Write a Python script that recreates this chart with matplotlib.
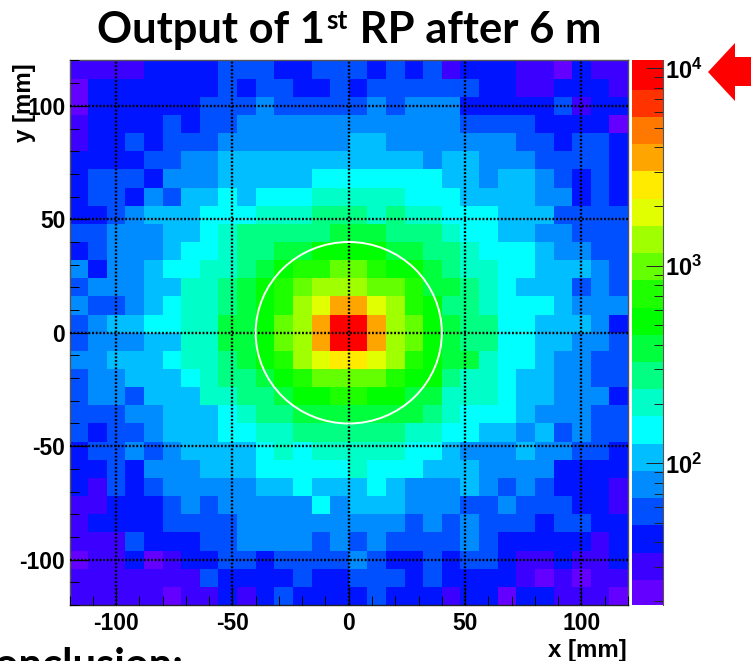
import numpy as np
import matplotlib
matplotlib.use("Agg")
import matplotlib.pyplot as plt
from matplotlib.colors import ListedColormap, LogNorm
from matplotlib.patches import Circle, Polygon
from matplotlib.ticker import LogLocator, FixedLocator, FuncFormatter, MultipleLocator, NullFormatter

W, H = 751, 661

title_parts = ["Output of 1", "st", " RP after 6 m"]
x_label = "x [mm]"
y_label = "y [mm]"
clipped_text = "Conclusion:"
x_ticks = [-100, -50, 0, 50, 100]
y_ticks = [-100, -50, 0, 50, 100]
circle_radius = 40
x_edges = list(range(-120, 121, 8))
y_edges = list(range(120, -121, -8))

band_colors = ["#6400ff", "#3c00ff", "#0014ff", "#0050ff", "#008cff", "#00beff", "#00ffff",
               "#00ffc8", "#00ff82", "#00ff3c", "#00ff00", "#1eff00", "#64ff00", "#a0ff00",
               "#e1ff00", "#ffeb00", "#ffa500", "#ff7800", "#ff3200", "#ff0000"]
band_counts = [21, 29, 40, 55, 76, 105, 145, 200, 275, 380,
               525, 725, 1000, 1380, 1900, 2630, 3630, 5000, 6900, 9500]
z_min, z_max = 19.2, 10960

bands = [
 [1,1,1,1,2,2,2,2,3,3,3,2,2,3,3,3,2,3,2,3,1,2,2,2,1,1,0,2,1,1],
 [0,2,2,2,2,2,2,2,3,2,3,3,2,2,3,2,3,3,3,3,3,3,2,2,1,1,2,2,2,1],
 [0,2,2,2,2,2,2,3,3,3,4,3,3,3,3,3,4,3,4,4,4,2,2,2,2,2,3,1,2,2],
 [1,2,2,2,2,3,2,3,3,4,4,4,4,4,4,4,4,4,4,4,4,3,3,3,3,2,2,2,2,0],
 [1,2,2,3,2,3,3,3,4,4,4,4,4,4,4,5,5,4,4,4,4,4,4,4,3,3,2,3,3,2],
 [2,2,2,2,3,3,4,4,5,5,5,5,5,5,5,5,5,5,5,4,5,5,4,4,4,3,3,3,3,2],
 [2,3,3,3,2,4,4,4,5,5,5,5,5,6,6,6,6,6,6,6,5,5,4,5,5,4,3,2,3,2],
 [2,3,3,2,4,3,5,5,6,5,6,6,6,7,7,7,7,7,6,6,6,5,5,5,5,4,4,2,3,2],
 [2,2,3,4,5,5,5,6,6,6,7,7,7,8,8,8,7,8,7,7,6,6,6,5,5,5,3,3,3,3],
 [3,3,4,4,4,5,5,6,7,8,8,8,8,8,9,9,9,8,8,8,7,6,6,5,5,4,4,3,3,3],
 [2,3,4,4,4,5,6,6,7,8,8,9,9,10,10,10,10,9,9,8,8,7,6,6,6,5,4,4,3,3],
 [4,2,4,4,5,6,6,7,7,8,9,10,11,11,12,12,11,10,10,9,8,7,7,6,6,5,5,5,4,3],
 [3,4,4,4,5,5,7,7,8,9,10,11,12,13,13,13,12,12,11,9,9,8,7,6,5,5,5,3,4,3],
 [4,3,3,4,5,6,7,7,8,9,10,11,13,14,16,16,14,13,11,10,8,8,7,6,6,6,5,4,4,4],
 [3,4,5,5,6,6,7,7,9,9,10,12,13,16,19,19,16,13,12,10,9,8,8,6,6,5,5,5,4,2],
 [3,4,4,4,5,5,7,7,9,9,10,12,13,16,19,19,16,13,12,10,9,8,8,6,6,5,5,4,4,3],
 [4,4,5,5,5,6,7,7,8,9,10,11,13,14,15,15,14,13,11,10,9,9,7,6,6,5,4,4,3,3],
 [3,4,4,5,5,5,6,7,8,8,9,10,11,12,12,12,12,11,10,10,8,7,7,6,5,5,4,4,3,3],
 [3,4,4,3,5,5,5,7,7,8,8,9,10,10,11,11,10,10,9,9,7,7,7,6,5,5,4,4,4,2],
 [3,3,3,4,4,5,5,5,6,7,8,8,9,9,9,9,9,9,9,8,7,6,6,6,5,4,4,4,3,3],
 [3,2,3,3,4,5,5,5,6,6,7,7,8,8,8,8,8,8,7,7,6,6,5,5,4,5,3,4,3,3],
 [2,3,3,4,3,4,5,5,5,5,6,7,6,7,7,7,7,7,6,6,5,4,4,4,5,4,4,3,3,2],
 [2,2,3,2,4,4,4,5,5,5,6,6,6,6,6,7,6,6,6,5,5,5,4,4,4,4,2,2,2,2],
 [2,1,3,2,3,4,4,4,4,4,5,5,6,5,5,5,6,5,4,4,4,5,4,3,4,3,2,2,2,1],
 [1,1,2,2,2,3,4,3,4,4,4,4,4,6,4,5,5,5,4,4,4,3,3,4,3,3,3,2,2,1],
 [1,2,2,2,2,3,3,3,3,4,4,4,4,4,4,4,4,4,3,4,3,4,3,3,3,2,3,3,2,2],
 [1,1,1,3,2,2,2,3,3,4,4,4,4,3,4,3,4,3,3,3,3,4,3,2,2,2,2,2,1,2],
 [0,1,1,2,0,1,2,2,3,3,2,3,3,3,3,4,3,2,2,3,2,3,3,2,1,1,2,1,1,2],
 [1,1,1,1,1,1,1,3,2,2,2,2,3,2,2,3,3,3,2,3,2,2,2,2,1,0,1,0,1,1],
 [1,1,1,1,1,0,1,1,2,1,2,3,2,2,2,2,3,2,2,2,1,2,2,0,2,2,1,1,1,0],
]

SANS = ["Liberation Sans", "DejaVu Sans"]
plt.rcParams["font.family"] = SANS
plt.rcParams["font.weight"] = "bold"
plt.rcParams["axes.unicode_minus"] = False
plt.rcParams["mathtext.fontset"] = "custom"
plt.rcParams["mathtext.bf"] = "Liberation Sans:bold"
plt.rcParams["mathtext.rm"] = "Liberation Sans:bold"

fig = plt.figure(figsize=(W / 100, H / 100), dpi=100, facecolor="white")


def box(l, t, r, b):
    return [l / W, 1 - b / H, (r - l) / W, (b - t) / H]


ax = fig.add_axes(box(69.5, 60.5, 628, 605))
cax = fig.add_axes(box(631.5, 60.5, 663.5, 605))

Z = np.array(band_counts)[np.array(bands)]
cmap = ListedColormap(band_colors)
norm = LogNorm(vmin=z_min, vmax=z_max)
mesh = ax.pcolormesh(x_edges, y_edges, Z, cmap=cmap, norm=norm, shading="flat",
                     edgecolors="none", antialiased=False)
ax.set_xlim(-120, 120)
ax.set_ylim(-120, 120)
ax.set_axisbelow(False)
ax.grid(True, which="major", color="black", linewidth=1.7, linestyle=(0, (0.78, 0.78)), zorder=5)
ax.add_patch(Circle((0, 0), circle_radius, fill=False, edgecolor="white", linewidth=1.4, zorder=6))

ax.set_xticks(x_ticks)
ax.set_yticks(y_ticks)
ax.xaxis.set_minor_locator(MultipleLocator(10))
ax.yaxis.set_minor_locator(MultipleLocator(10))
ax.tick_params(which="major", direction="in", length=13, width=0.8, labelsize=16.5, color="black")
ax.tick_params(which="minor", direction="in", length=6.7, width=0.7, color="black")
ax.tick_params(axis="x", which="major", pad=5)
ax.tick_params(axis="y", which="major", pad=3)
for side, c in {"top": "#555555", "right": "#555555", "left": "#555555", "bottom": "#222222"}.items():
    ax.spines[side].set_color(c)
    ax.spines[side].set_linewidth(1.0)

cb = fig.colorbar(mesh, cax=cax)
cb.solids.set_edgecolor("face")
cb.outline.set_visible(False)
cax.spines["right"].set_visible(True)
cax.spines["right"].set_color("#555555")
cax.yaxis.set_major_locator(FixedLocator([100, 1000, 10000]))
cax.yaxis.set_minor_locator(LogLocator(base=10, subs=range(2, 10)))
cax.yaxis.set_minor_formatter(NullFormatter())
cax.yaxis.set_major_formatter(FuncFormatter(lambda v, p: r"$\mathbf{10^{%d}}$" % round(np.log10(v))))
cax.tick_params(which="major", direction="in", length=12.5, width=0.7, labelsize=17, pad=1, color="#222222")
cax.tick_params(which="minor", direction="in", length=6.5, width=0.7, color="#222222")

fig.text(627 / W, 1 - 657 / H, x_label, ha="right", va="baseline", fontsize=17.3)
fig.text(25 / W, 1 - 63 / H, y_label, ha="center", va="top", rotation=90, fontsize=17.3)

TITLE = ["Lato", "DejaVu Sans"]
r = fig.canvas.get_renderer()
x = 97.0
baseline = 43.0
for i, part in enumerate(title_parts):
    sup = i == 1
    t = fig.text(x / W, 1 - (baseline - (14 if sup else 0)) / H, part, family=TITLE, weight="bold",
                 fontsize=19 if sup else 31.3, ha="left", va="baseline")
    x += t.get_window_extent(r).width + (2 if sup else 1)

fig.text(183 / W, 1 - 678 / H, clipped_text, family=TITLE, weight="bold", fontsize=30, ha="right", va="baseline")

arrow_px = [(708, 72), (735, 43), (735, 57), (760, 57), (760, 86), (735, 86), (735, 101)]
fig.add_artist(Polygon([(a / W, 1 - b / H) for a, b in arrow_px], closed=True, facecolor="#ff0000",
                       edgecolor="none", transform=fig.transFigure))

fig.savefig("out.png", dpi=100, facecolor="white")
